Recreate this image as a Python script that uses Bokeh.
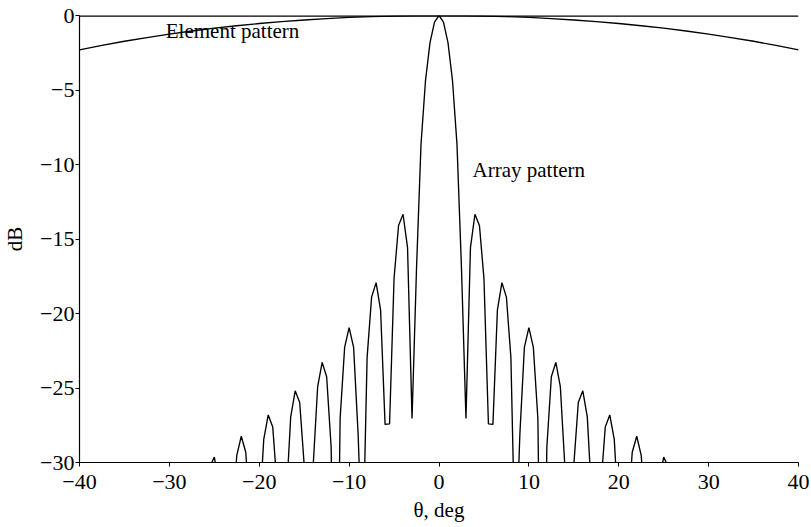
from bokeh.plotting import figure
from bokeh.models import Range1d, FixedTicker, Span, Label
from bokeh.embed import file_html
from bokeh.resources import INLINE

# angle samples (deg) of the array pattern
theta_deg = [
    -40.0, -39.5, -39.0, -38.5, -38.0, -37.5, -37.0, -36.5, -36.0, -35.5,
    -35.0, -34.5, -34.0, -33.5, -33.0, -32.5, -32.0, -31.5, -31.0, -30.5,
    -30.0, -29.5, -29.0, -28.5, -28.0, -27.5, -27.0, -26.5, -26.0, -25.5,
    -25.0, -24.5, -24.0, -23.5, -23.0, -22.5, -22.0, -21.5, -21.0, -20.5,
    -20.0, -19.5, -19.0, -18.5, -18.0, -17.5, -17.0, -16.5, -16.0, -15.5,
    -15.0, -14.5, -14.0, -13.5, -13.0, -12.5, -12.0, -11.5, -11.0, -10.5,
    -10.0, -9.5, -9.0, -8.5, -8.0, -7.5, -7.0, -6.5, -6.0, -5.5,
    -5.0, -4.5, -4.0, -3.5, -3.0, -2.5, -2.0, -1.5, -1.0, -0.5,
    0.0,
    0.5, 1.0, 1.5, 2.0, 2.5, 3.0, 3.5, 4.0, 4.5, 5.0,
    5.5, 6.0, 6.5, 7.0, 7.5, 8.0, 8.5, 9.0, 9.5, 10.0,
    10.5, 11.0, 11.5, 12.0, 12.5, 13.0, 13.5, 14.0, 14.5, 15.0,
    15.5, 16.0, 16.5, 17.0, 17.5, 18.0, 18.5, 19.0, 19.5, 20.0,
    20.5, 21.0, 21.5, 22.0, 22.5, 23.0, 23.5, 24.0, 24.5, 25.0,
    25.5, 26.0, 26.5, 27.0, 27.5, 28.0, 28.5, 29.0, 29.5, 30.0,
    30.5, 31.0, 31.5, 32.0, 32.5, 33.0, 33.5, 34.0, 34.5, 35.0,
    35.5, 36.0, 36.5, 37.0, 37.5, 38.0, 38.5, 39.0, 39.5, 40.0,
]

# array pattern (dB)
array_db = [
    -42.4, -37.4, -35.2, -34.8, -36.1, -39.9, -53.0, -43.9, -36.9, -34.2,
    -33.4, -34.5, -38.3, -51.2, -42.3, -35.4, -32.7, -32.2, -33.7, -38.5,
    -70.0, -38.1, -32.90, -31.02, -31.28, -33.99, -42.46, -42.67, -33.46, -30.28,
    -29.64, -31.30, -36.85, -51.0, -33.88, -29.52, -28.24, -29.31, -33.77, -65.2,
    -33.66, -28.45, -26.81, -27.61, -31.69, -53.09, -32.47, -26.94, -25.19, -25.97,
    -30.16, -56.7, -30.22, -24.90, -23.28, -24.24, -28.98, -50.19, -27.03, -22.28,
    -20.95, -22.28, -28.08, -36.72, -22.96, -18.90, -17.93, -19.75, -27.44, -27.41,
    -17.64, -14.09, -13.34, -15.58, -27.05, -16.94, -8.63, -4.35, -1.82, -0.44,
    0.0,
    -0.44, -1.82, -4.35, -8.63, -16.94, -27.05, -15.58, -13.34, -14.09, -17.64,
    -27.41, -27.44, -19.75, -17.93, -18.90, -22.96, -36.72, -28.08, -22.28, -20.95,
    -22.28, -27.03, -50.19, -28.98, -24.24, -23.28, -24.90, -30.22, -56.7, -30.16,
    -25.97, -25.19, -26.94, -32.47, -53.09, -31.69, -27.61, -26.81, -28.45, -33.66,
    -65.2, -33.77, -29.31, -28.24, -29.52, -33.88, -51.0, -36.85, -31.30, -29.64,
    -30.28, -33.46, -42.67, -42.46, -33.99, -31.28, -31.02, -32.90, -38.1, -70.0,
    -38.5, -33.7, -32.2, -32.7, -35.4, -42.3, -51.2, -38.3, -34.5, -33.4,
    -34.2, -36.9, -43.9, -53.0, -39.9, -36.1, -34.8, -35.2, -37.4, -42.4,
]

# element pattern
element_theta = [-40.0, -37.5, -35.0, -32.5, -30.0, -27.5, -25.0, -22.5, -20.0,
                 -17.5, -15.0, -12.5, -10.0, -7.5, -5.0, -2.5, 0.0,
                 2.5, 5.0, 7.5, 10.0, 12.5, 15.0, 17.5, 20.0,
                 22.5, 25.0, 27.5, 30.0, 32.5, 35.0, 37.5, 40.0]
element_db = [-2.31, -2.01, -1.73, -1.48, -1.25, -1.04, -0.85, -0.69, -0.54,
              -0.41, -0.30, -0.21, -0.13, -0.075, -0.033, -0.008, 0.0,
              -0.008, -0.033, -0.075, -0.13, -0.21, -0.30, -0.41, -0.54,
              -0.69, -0.85, -1.04, -1.25, -1.48, -1.73, -2.01, -2.31]

x_ticks = [-40, -30, -20, -10, 0, 10, 20, 30, 40]
x_tick_labels = ["\u221240", "\u221230", "\u221220", "\u221210", "0", "10", "20", "30", "40"]
y_ticks = [-30, -25, -20, -15, -10, -5, 0]
y_tick_labels = ["\u221230", "\u221225", "\u221220", "\u221215", "\u221210", "\u22125", "0"]

FONT = "Liberation Serif"
FS = "21px"
TICK_FS = "22px"

p = figure(frame_width=719, frame_height=447, output_backend="svg", toolbar_location=None,
           x_range=Range1d(-40, 40), y_range=Range1d(-30, 0),
           min_border_left=79, min_border_top=15, min_border_right=13, min_border_bottom=65)
p.outline_line_color = None
p.xgrid.grid_line_color = None
p.ygrid.grid_line_color = None
p.background_fill_color = "white"
p.border_fill_color = "white"

p.line(element_theta, element_db, line_color="black", line_width=1.35)
p.line(theta_deg, array_db, line_color="black", line_width=1.35)

# top border line at 0 dB (half of it falls inside the frame)
p.add_layout(Span(location=0, dimension="width", line_color="black", line_width=2.6))

p.add_layout(Label(x=-30.4, y=-1.07, text="Element pattern", text_font=FONT,
                   text_font_size=FS, text_color="black", text_baseline="alphabetic"))
p.add_layout(Label(x=3.73, y=-10.4, text="Array pattern", text_font=FONT,
                   text_font_size=FS, text_color="black", text_baseline="alphabetic"))

for ax, ticks, labels in ((p.xaxis[0], x_ticks, x_tick_labels), (p.yaxis[0], y_ticks, y_tick_labels)):
    ax.ticker = FixedTicker(ticks=ticks)
    ax.major_label_overrides = {t: l for t, l in zip(ticks, labels)}
    ax.minor_tick_line_color = None
    ax.major_tick_in = 0
    ax.major_tick_out = 4
    ax.major_tick_line_color = "black"
    ax.axis_line_color = "black"
    ax.axis_line_width = 1.2
    ax.major_label_text_font = FONT
    ax.major_label_text_font_size = TICK_FS
    ax.major_label_text_color = "black"
    ax.axis_label_text_font = FONT
    ax.axis_label_text_font_size = FS
    ax.axis_label_text_font_style = "normal"
    ax.axis_label_text_color = "black"

p.xaxis.major_label_standoff = 8
p.xaxis.axis_label = "\u03b8, deg"
p.xaxis.axis_label_standoff = 6
p.yaxis.major_label_standoff = 1
p.yaxis.axis_label = "dB"
p.yaxis.axis_label_standoff = 10

open("out.html", "w").write(file_html(p, INLINE))
